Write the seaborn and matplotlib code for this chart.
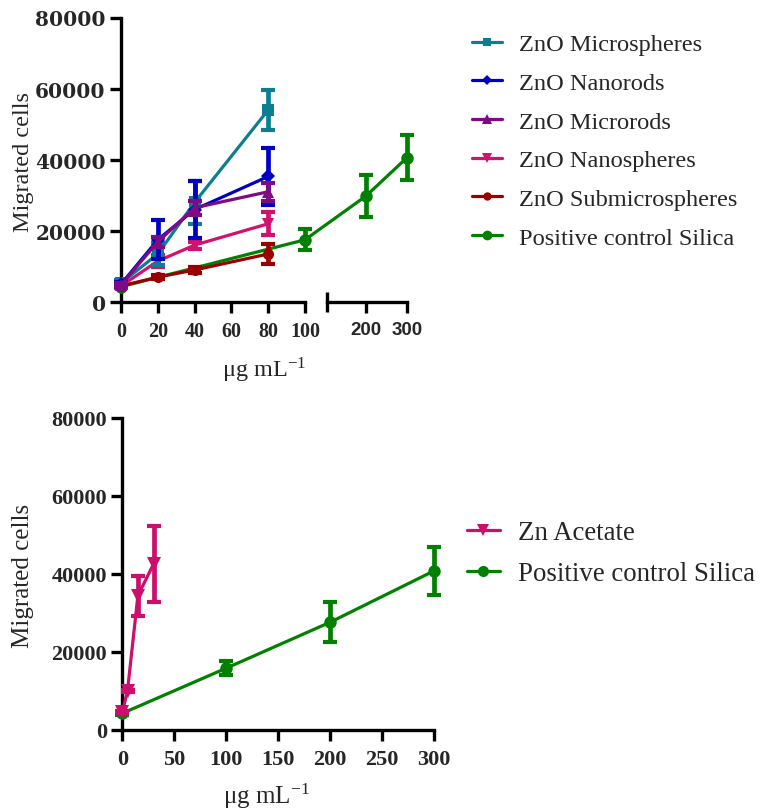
import matplotlib
matplotlib.use("Agg")
import matplotlib.pyplot as plt
import seaborn as sns
import numpy as np
import pandas as pd
from matplotlib.patches import ConnectionPatch
from matplotlib.lines import Line2D

sns.set_theme(style="ticks")
plt.rcParams['font.family'] = ['Liberation Serif', 'DejaVu Serif']
plt.rcParams['mathtext.fontset'] = 'stix'

# ---------------- data (top panel) ----------------
zno_dose = [0, 20, 40, 80]
microspheres_mean = [5300, 13500, 28000, 54000]
microspheres_sd = [900, 3000, 6000, 5700]
nanorods_mean = [5000, 17500, 26000, 35300]
nanorods_sd = [600, 5500, 8000, 8000]
microrods_mean = [4800, 16900, 26500, 31000]
microrods_sd = [500, 1500, 2000, 2500]
nanospheres_mean = [4500, 11500, 16000, 22000]
nanospheres_sd = [500, 1700, 1000, 3300]
submicro_mean = [4500, 7000, 9000, 13500]
submicro_sd = [400, 600, 800, 2800]
silica_dose = [0, 100, 200, 300]
silica_top_mean = [4300, 17500, 29800, 40600]
silica_top_sd = [500, 3000, 5800, 6300]

# ---------------- data (bottom panel) ----------------
acetate_dose = [0, 5, 15, 30]
acetate_mean = [4500, 10000, 34400, 42500]
acetate_sd = [300, 300, 5100, 9700]
silica_bot_mean = [4200, 15800, 27600, 40800]
silica_bot_sd = [500, 1800, 5200, 6200]

top_labels = ["ZnO Microspheres", "ZnO Nanorods", "ZnO Microrods",
              "ZnO Nanospheres", "ZnO Submicrospheres", "Positive control Silica"]
bottom_labels = ["Zn Acetate", "Positive control Silica"]
yticks = [0, 20000, 40000, 60000, 80000]
xticks_seg1 = [0, 20, 40, 60, 80, 100]
xticks_seg2 = [200, 300]
xticks_bottom = [0, 50, 100, 150, 200, 250, 300]

C_TEAL = "#0B7E91"
C_BLUE = "#0000C4"
C_PURPLE = "#7E0A84"
C_PINK = "#D2126F"
C_RED = "#9A0000"
C_GREEN = "#018001"
C_ACET = "#CC0E6C"

W, H = 770, 812
fig = plt.figure(figsize=(W / 100, H / 100), dpi=100)


def rect(l, r, t, b):
    return [l / W, 1 - b / H, (r - l) / W, (b - t) / H]


LW = 2.3
SPW = 2.4


def draw_series(ax, x, m, sd, color, marker, ms=9):
    sns.lineplot(x=x, y=m, ax=ax, color=color, marker=marker, markersize=ms,
                 linewidth=LW, markeredgewidth=0, errorbar=None, sort=False,
                 clip_on=False, zorder=3)
    eb = ax.errorbar(x, m, yerr=sd, fmt='none', ecolor=color, elinewidth=3.4,
                     capsize=4.8, capthick=3, zorder=3)
    for art in eb.get_children():
        art.set_clip_on(False)


def style_axis(ax):
    for s in ["top", "right"]:
        ax.spines[s].set_visible(False)
    for s in ["left", "bottom"]:
        ax.spines[s].set_linewidth(SPW)
        ax.spines[s].set_color("black")
    ax.tick_params(axis='both', which='major', direction='out', length=8,
                   width=SPW, color='black')
    ax.set_xlabel("")
    ax.set_ylabel("")
    ax.set_facecolor("none")


# ---------------- top panel ----------------
ax1 = fig.add_axes(rect(121, 305, 18.5, 303))
ax2 = fig.add_axes(rect(327, 407, 18.5, 303))
for ax in (ax1, ax2):
    style_axis(ax)
    ax.set_ylim(0, 80000)
ax1.set_xlim(0, 100)
ax2.set_xlim(105, 300)

seg1 = [i for i, d in enumerate(silica_dose) if d <= 100]
seg2 = [i for i, d in enumerate(silica_dose) if d > 100]
draw_series(ax1, [silica_dose[i] for i in seg1], [silica_top_mean[i] for i in seg1],
            [silica_top_sd[i] for i in seg1], C_GREEN, 'o')
draw_series(ax2, [silica_dose[i] for i in seg2], [silica_top_mean[i] for i in seg2],
            [silica_top_sd[i] for i in seg2], C_GREEN, 'o')
con = ConnectionPatch(xyA=(silica_dose[seg1[-1]], silica_top_mean[seg1[-1]]), coordsA="data", axesA=ax1,
                      xyB=(silica_dose[seg2[0]], silica_top_mean[seg2[0]]), coordsB="data", axesB=ax2,
                      color=C_GREEN, lw=LW, arrowstyle='-', shrinkA=0, shrinkB=0,
                      annotation_clip=False)
ax2.add_artist(con)

draw_series(ax1, zno_dose, submicro_mean, submicro_sd, C_RED, 'o', ms=8)
draw_series(ax1, zno_dose, nanospheres_mean, nanospheres_sd, C_PINK, 'v')
draw_series(ax1, zno_dose, microspheres_mean, microspheres_sd, C_TEAL, 's', ms=8.5)
draw_series(ax1, zno_dose, nanorods_mean, nanorods_sd, C_BLUE, 'D', ms=7)
draw_series(ax1, zno_dose, microrods_mean, microrods_sd, C_PURPLE, '^')

ax1.set_yticks(yticks)
ax1.set_yticklabels([str(v) for v in yticks], fontfamily='DejaVu Serif',
                    fontweight='bold', fontsize=14.5)
ax1.tick_params(axis='y', pad=3)
ax1.set_xticks(xticks_seg1)
ax1.set_xticklabels([str(v) for v in xticks_seg1], fontweight='bold', fontsize=14.5)
ax1.tick_params(axis='x', pad=6)
ax1.set_xticks([100], minor=True)
ax1.tick_params(axis='x', which='minor', direction='inout', length=14, width=SPW, color='black')

ax2.spines['left'].set_visible(False)
ax2.tick_params(axis='y', left=False, labelleft=False)
ax2.set_xticks(xticks_seg2)
ax2.set_xticklabels([str(v) for v in xticks_seg2], fontfamily='Liberation Sans',
                    fontweight='bold', fontsize=13.5)
ax2.tick_params(axis='x', pad=6)
ax2.set_xticks([105], minor=True)
ax2.tick_params(axis='x', which='minor', direction='inout', length=14, width=SPW, color='black')

fig.text(23 / W, 1 - 162 / H, "Migrated cells", rotation=90, ha='center', va='center',
         fontsize=17.5)
fig.text(264 / W, 1 - 370 / H, r"μg mL$^{\mathregular{-1}}$", ha='center', va='center',
         fontsize=17.5)

top_handles = [
    Line2D([], [], color=C_TEAL, marker='s', markersize=6, lw=LW, markeredgewidth=0),
    Line2D([], [], color=C_BLUE, marker='D', markersize=5, lw=LW, markeredgewidth=0),
    Line2D([], [], color=C_PURPLE, marker='^', markersize=7, lw=LW, markeredgewidth=0),
    Line2D([], [], color=C_PINK, marker='v', markersize=7, lw=LW, markeredgewidth=0),
    Line2D([], [], color=C_RED, marker='o', markersize=6, lw=LW, markeredgewidth=0),
    Line2D([], [], color=C_GREEN, marker='o', markersize=7, lw=LW, markeredgewidth=0),
]
fig.legend(top_handles, top_labels, loc='upper left', bbox_to_anchor=(472 / W, 1 - 34 / H),
           frameon=False, fontsize=17.6, borderpad=0, borderaxespad=0,
           handlelength=1.23, handletextpad=0.7, labelspacing=0.68)

# ---------------- bottom panel ----------------
ax3 = fig.add_axes(rect(122.3, 434.3, 419, 730.7))
style_axis(ax3)
ax3.set_xlim(0, 300)
ax3.set_ylim(0, 80000)
draw_series(ax3, silica_dose, silica_bot_mean, silica_bot_sd, C_GREEN, 'o')
draw_series(ax3, acetate_dose, acetate_mean, acetate_sd, C_ACET, 'v', ms=10)
ax3.set_yticks(yticks)
ax3.set_yticklabels([str(v) for v in yticks], fontweight='bold', fontsize=16)
ax3.tick_params(axis='y', pad=3)
ax3.set_xticks(xticks_bottom)
ax3.set_xticklabels([str(v) for v in xticks_bottom], fontweight='bold', fontsize=16)
ax3.tick_params(axis='x', pad=6)

fig.text(23 / W, 1 - 576 / H, "Migrated cells", rotation=90, ha='center', va='center',
         fontsize=18)
fig.text(266 / W, 1 - 796 / H, r"μg mL$^{\mathregular{-1}}$", ha='center', va='center',
         fontsize=18)

bot_handles = [
    Line2D([], [], color=C_ACET, marker='v', markersize=8, lw=LW, markeredgewidth=0),
    Line2D([], [], color=C_GREEN, marker='o', markersize=8, lw=LW, markeredgewidth=0),
]
fig.legend(bot_handles, bottom_labels, loc='upper left', bbox_to_anchor=(467 / W, 1 - 521 / H),
           frameon=False, fontsize=19.4, borderpad=0, borderaxespad=0,
           handlelength=1.22, handletextpad=0.67, labelspacing=0.6)

fig.savefig("out.png", dpi=100)
